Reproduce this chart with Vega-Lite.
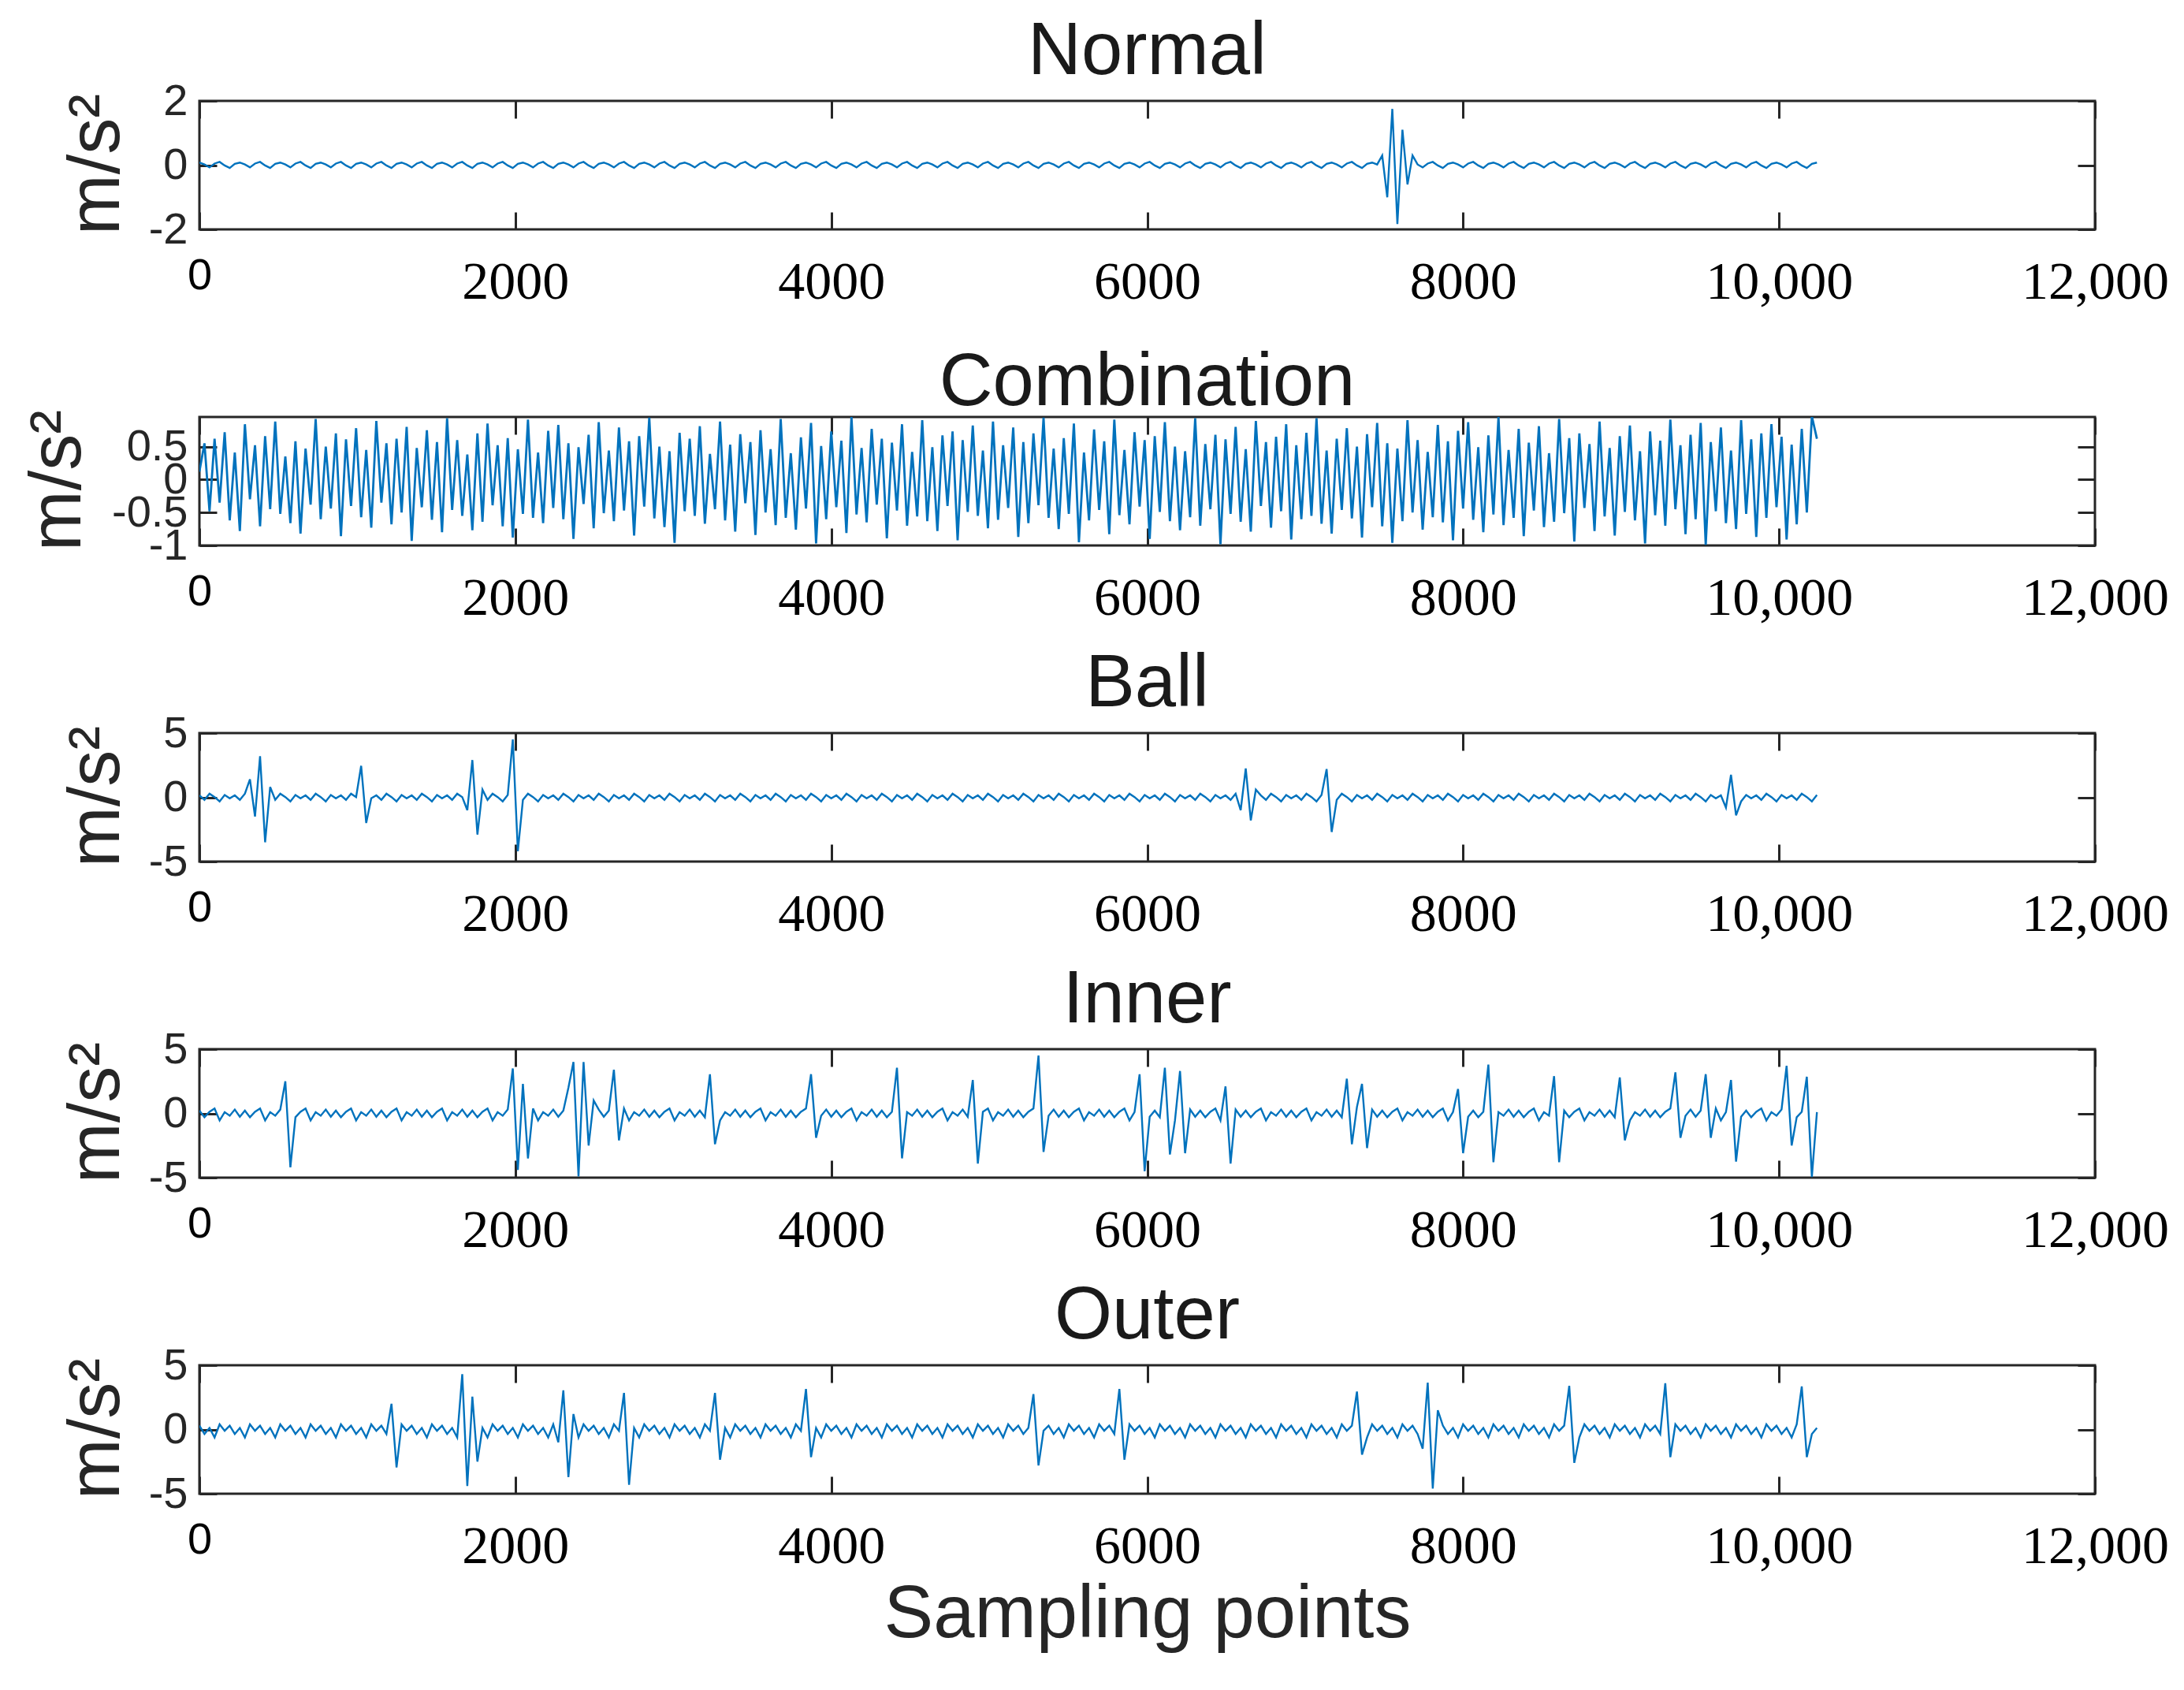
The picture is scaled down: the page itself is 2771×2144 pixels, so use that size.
{
"$schema": "https://vega.github.io/schema/vega-lite/v6.json",
"background": "white",
"padding": {"left": 25, "top": 17, "right": 5, "bottom": 5},
"autosize": {"type": "pad"},
"spacing": 238,
"bounds": "flush",
"config": {
  "view": {"stroke": "#262626", "strokeWidth": 3},
  "font": "Liberation Sans",
  "title": {"font": "Liberation Sans", "fontSize": 94, "fontWeight": "normal", "color": "#1a1a1a", "baseline": "alphabetic", "offset": -14, "anchor": "middle", "frame": "group"},
  "axis": {"domain": false, "grid": false, "tickSize": -22, "tickColor": "#262626", "tickWidth": 3, "labelOverlap": false, "labelFlush": false, "labelLimit": 0, "titleFont": "Liberation Sans", "titleFontWeight": "normal", "titleColor": "#262626"}
},
"data": {"values": [
{"x":0,"n":0.08,"c":0.12,"b":0.15,"i":0.22,"o":0.3},
{"x":32,"n":0.02,"c":0.55,"b":-0.2,"i":-0.3,"o":-0.35},
{"x":64,"n":-0.07,"c":-0.48,"b":0.28,"i":0.12,"o":0.12},
{"x":96,"n":0.05,"c":0.62,"b":0.02,"i":0.38,"o":-0.62},
{"x":128,"n":0.1,"c":-0.35,"b":-0.32,"i":-0.55,"o":0.4},
{"x":160,"n":-0.01,"c":0.72,"b":0.18,"i":0.1,"o":-0.1},
{"x":192,"n":-0.09,"c":-0.62,"b":-0.08,"i":-0.18,"o":0.3},
{"x":224,"n":0.04,"c":0.41,"b":0.15,"i":0.3,"o":-0.35},
{"x":256,"n":0.08,"c":-0.78,"b":-0.2,"i":-0.26,"o":0.12},
{"x":288,"n":0.02,"c":0.84,"b":0.28,"i":0.22,"o":-0.62},
{"x":320,"n":-0.07,"c":-0.3,"b":1.4,"i":-0.3,"o":0.4},
{"x":352,"n":0.05,"c":0.52,"b":-1.5,"i":0.12,"o":-0.1},
{"x":384,"n":0.1,"c":-0.71,"b":3.2,"i":0.38,"o":0.3},
{"x":416,"n":-0.01,"c":0.66,"b":-3.5,"i":-0.55,"o":-0.35},
{"x":448,"n":-0.09,"c":-0.45,"b":0.8,"i":0.1,"o":0.12},
{"x":480,"n":0.04,"c":0.88,"b":-0.2,"i":-0.18,"o":-0.62},
{"x":512,"n":0.08,"c":-0.52,"b":0.28,"i":0.3,"o":0.4},
{"x":544,"n":0.02,"c":0.35,"b":0.02,"i":2.5,"o":-0.1},
{"x":576,"n":-0.07,"c":-0.66,"b":-0.32,"i":-4.2,"o":0.3},
{"x":608,"n":0.05,"c":0.58,"b":0.18,"i":-0.3,"o":-0.35},
{"x":640,"n":0.1,"c":-0.82,"b":-0.08,"i":0.12,"o":0.12},
{"x":672,"n":-0.01,"c":0.47,"b":0.15,"i":0.38,"o":-0.62},
{"x":704,"n":-0.09,"c":-0.38,"b":-0.2,"i":-0.55,"o":0.4},
{"x":736,"n":0.04,"c":0.92,"b":0.28,"i":0.1,"o":-0.1},
{"x":768,"n":0.08,"c":-0.6,"b":0.02,"i":-0.18,"o":0.3},
{"x":800,"n":0.02,"c":0.5,"b":-0.32,"i":0.3,"o":-0.35},
{"x":832,"n":-0.07,"c":-0.44,"b":0.18,"i":-0.26,"o":0.12},
{"x":864,"n":0.05,"c":0.7,"b":-0.08,"i":0.22,"o":-0.62},
{"x":896,"n":0.1,"c":-0.86,"b":0.15,"i":-0.3,"o":0.4},
{"x":928,"n":-0.01,"c":0.61,"b":-0.2,"i":0.12,"o":-0.1},
{"x":960,"n":-0.09,"c":-0.4,"b":0.28,"i":0.38,"o":0.3},
{"x":992,"n":0.04,"c":0.78,"b":0.02,"i":-0.55,"o":-0.35},
{"x":1024,"n":0.08,"c":-0.57,"b":2.45,"i":0.1,"o":0.12},
{"x":1056,"n":0.02,"c":0.45,"b":-2.0,"i":-0.18,"o":-0.62},
{"x":1088,"n":-0.07,"c":-0.73,"b":-0.08,"i":0.3,"o":0.4},
{"x":1120,"n":0.05,"c":0.89,"b":0.15,"i":-0.26,"o":-0.1},
{"x":1152,"n":0.1,"c":-0.35,"b":-0.2,"i":0.22,"o":0.3},
{"x":1184,"n":-0.01,"c":0.55,"b":0.28,"i":-0.3,"o":-0.35},
{"x":1216,"n":-0.09,"c":-0.68,"b":0.02,"i":0.12,"o":2.0},
{"x":1248,"n":0.04,"c":0.62,"b":-0.32,"i":0.38,"o":-2.95},
{"x":1280,"n":0.08,"c":-0.5,"b":0.18,"i":-0.55,"o":0.4},
{"x":1312,"n":0.02,"c":0.8,"b":-0.08,"i":0.1,"o":-0.1},
{"x":1344,"n":-0.07,"c":-0.93,"b":0.15,"i":-0.18,"o":0.3},
{"x":1376,"n":0.05,"c":0.48,"b":-0.2,"i":0.3,"o":-0.35},
{"x":1408,"n":0.1,"c":-0.42,"b":0.28,"i":-0.26,"o":0.12},
{"x":1440,"n":-0.01,"c":0.75,"b":0.02,"i":0.22,"o":-0.62},
{"x":1472,"n":-0.09,"c":-0.61,"b":-0.32,"i":-0.3,"o":0.4},
{"x":1504,"n":0.04,"c":0.57,"b":0.18,"i":0.12,"o":-0.1},
{"x":1536,"n":0.08,"c":-0.8,"b":-0.08,"i":0.38,"o":0.3},
{"x":1568,"n":0.02,"c":0.93,"b":0.15,"i":-0.55,"o":-0.35},
{"x":1600,"n":-0.07,"c":-0.46,"b":-0.2,"i":0.1,"o":0.12},
{"x":1632,"n":0.05,"c":0.6,"b":0.28,"i":-0.18,"o":-0.62},
{"x":1664,"n":0.1,"c":-0.55,"b":0.02,"i":0.3,"o":4.3},
{"x":1696,"n":-0.01,"c":0.38,"b":-1.0,"i":-0.26,"o":-4.4},
{"x":1728,"n":-0.09,"c":-0.77,"b":2.9,"i":0.22,"o":2.55},
{"x":1760,"n":0.04,"c":0.7,"b":-2.9,"i":-0.3,"o":-2.5},
{"x":1792,"n":0.08,"c":-0.64,"b":0.6,"i":0.12,"o":0.12},
{"x":1824,"n":0.02,"c":0.85,"b":-0.2,"i":0.38,"o":-0.62},
{"x":1856,"n":-0.07,"c":-0.39,"b":0.28,"i":-0.55,"o":0.4},
{"x":1888,"n":0.05,"c":0.52,"b":0.02,"i":0.1,"o":-0.1},
{"x":1920,"n":0.1,"c":-0.71,"b":-0.32,"i":-0.18,"o":0.3},
{"x":1952,"n":-0.01,"c":0.63,"b":0.18,"i":0.3,"o":-0.35},
{"x":1984,"n":-0.09,"c":-0.88,"b":4.5,"i":3.5,"o":0.12},
{"x":2016,"n":0.04,"c":0.46,"b":-4.2,"i":-4.4,"o":-0.62},
{"x":2048,"n":0.08,"c":-0.52,"b":-0.2,"i":2.3,"o":0.4},
{"x":2080,"n":0.02,"c":0.91,"b":0.28,"i":-3.5,"o":-0.1},
{"x":2112,"n":-0.07,"c":-0.58,"b":0.02,"i":0.38,"o":0.3},
{"x":2144,"n":0.05,"c":0.41,"b":-0.32,"i":-0.55,"o":-0.35},
{"x":2176,"n":0.1,"c":-0.66,"b":0.18,"i":0.1,"o":0.12},
{"x":2208,"n":-0.01,"c":0.74,"b":-0.08,"i":-0.18,"o":-0.62},
{"x":2240,"n":-0.09,"c":-0.43,"b":0.15,"i":0.3,"o":0.4},
{"x":2272,"n":0.04,"c":0.83,"b":-0.2,"i":-0.26,"o":-1.0},
{"x":2304,"n":0.08,"c":-0.6,"b":0.28,"i":0.22,"o":3.05},
{"x":2336,"n":0.02,"c":0.55,"b":0.02,"i":2.0,"o":-3.7},
{"x":2368,"n":-0.07,"c":-0.9,"b":-0.32,"i":4.0,"o":1.2},
{"x":2400,"n":0.05,"c":0.49,"b":0.18,"i":-4.9,"o":-0.62},
{"x":2432,"n":0.1,"c":-0.37,"b":-0.08,"i":4.0,"o":0.4},
{"x":2464,"n":-0.01,"c":0.68,"b":0.15,"i":-2.5,"o":-0.1},
{"x":2496,"n":-0.09,"c":-0.74,"b":-0.2,"i":1.0,"o":0.3},
{"x":2528,"n":0.04,"c":0.87,"b":0.28,"i":0.3,"o":-0.35},
{"x":2560,"n":0.08,"c":-0.51,"b":0.02,"i":-0.26,"o":0.12},
{"x":2592,"n":0.02,"c":0.44,"b":-0.32,"i":0.22,"o":-0.62},
{"x":2624,"n":-0.07,"c":-0.63,"b":0.18,"i":3.4,"o":0.4},
{"x":2656,"n":0.05,"c":0.79,"b":-0.08,"i":-2.1,"o":-0.1},
{"x":2688,"n":0.1,"c":-0.47,"b":0.15,"i":0.38,"o":2.85},
{"x":2720,"n":-0.01,"c":0.58,"b":-0.2,"i":-0.55,"o":-4.3},
{"x":2752,"n":-0.09,"c":-0.85,"b":0.28,"i":0.1,"o":0.12},
{"x":2784,"n":0.04,"c":0.66,"b":0.02,"i":-0.18,"o":-0.62},
{"x":2816,"n":0.08,"c":-0.41,"b":-0.32,"i":0.3,"o":0.4},
{"x":2848,"n":0.02,"c":0.94,"b":0.18,"i":-0.26,"o":-0.1},
{"x":2880,"n":-0.07,"c":-0.59,"b":-0.08,"i":0.22,"o":0.3},
{"x":2912,"n":0.05,"c":0.5,"b":0.15,"i":-0.3,"o":-0.35},
{"x":2944,"n":0.1,"c":-0.72,"b":-0.2,"i":0.12,"o":0.12},
{"x":2976,"n":-0.01,"c":0.43,"b":0.28,"i":0.38,"o":-0.62},
{"x":3008,"n":-0.09,"c":-0.96,"b":0.02,"i":-0.55,"o":0.4},
{"x":3040,"n":0.04,"c":0.71,"b":-0.32,"i":0.1,"o":-0.1},
{"x":3072,"n":0.08,"c":-0.48,"b":0.18,"i":-0.18,"o":0.3},
{"x":3104,"n":0.02,"c":0.62,"b":-0.08,"i":0.3,"o":-0.35},
{"x":3136,"n":-0.07,"c":-0.55,"b":0.15,"i":-0.26,"o":0.12},
{"x":3168,"n":0.05,"c":0.81,"b":-0.2,"i":0.22,"o":-0.62},
{"x":3200,"n":0.1,"c":-0.67,"b":0.28,"i":-0.3,"o":0.4},
{"x":3232,"n":-0.01,"c":0.39,"b":0.02,"i":3.05,"o":-0.1},
{"x":3264,"n":-0.09,"c":-0.45,"b":-0.32,"i":-2.4,"o":2.85},
{"x":3296,"n":0.04,"c":0.88,"b":0.18,"i":-0.55,"o":-2.35},
{"x":3328,"n":0.08,"c":-0.62,"b":-0.08,"i":0.1,"o":0.12},
{"x":3360,"n":0.02,"c":0.53,"b":0.15,"i":-0.18,"o":-0.62},
{"x":3392,"n":-0.07,"c":-0.79,"b":-0.2,"i":0.3,"o":0.4},
{"x":3424,"n":0.05,"c":0.69,"b":0.28,"i":-0.26,"o":-0.1},
{"x":3456,"n":0.1,"c":-0.36,"b":0.02,"i":0.22,"o":0.3},
{"x":3488,"n":-0.01,"c":0.57,"b":-0.32,"i":-0.3,"o":-0.35},
{"x":3520,"n":-0.09,"c":-0.84,"b":0.18,"i":0.12,"o":0.12},
{"x":3552,"n":0.04,"c":0.75,"b":-0.08,"i":0.38,"o":-0.62},
{"x":3584,"n":0.08,"c":-0.5,"b":0.15,"i":-0.55,"o":0.4},
{"x":3616,"n":0.02,"c":0.46,"b":-0.2,"i":0.1,"o":-0.1},
{"x":3648,"n":-0.07,"c":-0.69,"b":0.28,"i":-0.18,"o":0.3},
{"x":3680,"n":0.05,"c":0.92,"b":0.02,"i":0.3,"o":-0.35},
{"x":3712,"n":0.1,"c":-0.58,"b":-0.32,"i":-0.26,"o":0.12},
{"x":3744,"n":-0.01,"c":0.4,"b":0.18,"i":0.22,"o":-0.62},
{"x":3776,"n":-0.09,"c":-0.76,"b":-0.08,"i":-0.3,"o":0.4},
{"x":3808,"n":0.04,"c":0.64,"b":0.15,"i":0.12,"o":-0.1},
{"x":3840,"n":0.08,"c":-0.44,"b":-0.2,"i":0.38,"o":3.15},
{"x":3872,"n":0.02,"c":0.86,"b":0.28,"i":3.05,"o":-2.15},
{"x":3904,"n":-0.07,"c":-0.97,"b":0.02,"i":-1.9,"o":0.12},
{"x":3936,"n":0.05,"c":0.51,"b":-0.32,"i":-0.18,"o":-0.62},
{"x":3968,"n":0.1,"c":-0.6,"b":0.18,"i":0.3,"o":0.4},
{"x":4000,"n":-0.01,"c":0.73,"b":-0.08,"i":-0.26,"o":-0.1},
{"x":4032,"n":-0.09,"c":-0.42,"b":0.15,"i":0.22,"o":0.3},
{"x":4064,"n":0.04,"c":0.59,"b":-0.2,"i":-0.3,"o":-0.35},
{"x":4096,"n":0.08,"c":-0.81,"b":0.28,"i":0.12,"o":0.12},
{"x":4128,"n":0.02,"c":0.95,"b":0.02,"i":0.38,"o":-0.62},
{"x":4160,"n":-0.07,"c":-0.53,"b":-0.32,"i":-0.55,"o":0.4},
{"x":4192,"n":0.05,"c":0.48,"b":0.18,"i":0.1,"o":-0.1},
{"x":4224,"n":0.1,"c":-0.65,"b":-0.08,"i":-0.18,"o":0.3},
{"x":4256,"n":-0.01,"c":0.77,"b":0.15,"i":0.3,"o":-0.35},
{"x":4288,"n":-0.09,"c":-0.38,"b":-0.2,"i":-0.26,"o":0.12},
{"x":4320,"n":0.04,"c":0.62,"b":0.28,"i":0.22,"o":-0.62},
{"x":4352,"n":0.08,"c":-0.89,"b":0.02,"i":-0.3,"o":0.4},
{"x":4384,"n":0.02,"c":0.56,"b":-0.32,"i":0.12,"o":-0.1},
{"x":4416,"n":-0.07,"c":-0.47,"b":0.18,"i":3.55,"o":0.3},
{"x":4448,"n":0.05,"c":0.84,"b":-0.08,"i":-3.5,"o":-0.35},
{"x":4480,"n":0.1,"c":-0.7,"b":0.15,"i":0.1,"o":0.12},
{"x":4512,"n":-0.01,"c":0.42,"b":-0.2,"i":-0.18,"o":-0.62},
{"x":4544,"n":-0.09,"c":-0.56,"b":0.28,"i":0.3,"o":0.4},
{"x":4576,"n":0.04,"c":0.9,"b":0.02,"i":-0.26,"o":-0.1},
{"x":4608,"n":0.08,"c":-0.63,"b":-0.32,"i":0.22,"o":0.3},
{"x":4640,"n":0.02,"c":0.49,"b":0.18,"i":-0.3,"o":-0.35},
{"x":4672,"n":-0.07,"c":-0.78,"b":-0.08,"i":0.12,"o":0.12},
{"x":4704,"n":0.05,"c":0.67,"b":0.15,"i":0.38,"o":-0.62},
{"x":4736,"n":0.1,"c":-0.4,"b":-0.2,"i":-0.55,"o":0.4},
{"x":4768,"n":-0.01,"c":0.73,"b":0.28,"i":0.1,"o":-0.1},
{"x":4800,"n":-0.09,"c":-0.92,"b":0.02,"i":-0.18,"o":0.3},
{"x":4832,"n":0.04,"c":0.6,"b":-0.32,"i":0.3,"o":-0.35},
{"x":4864,"n":0.08,"c":-0.49,"b":0.18,"i":-0.26,"o":0.12},
{"x":4896,"n":0.02,"c":0.82,"b":-0.08,"i":2.6,"o":-0.62},
{"x":4928,"n":-0.07,"c":-0.55,"b":0.15,"i":-3.9,"o":0.4},
{"x":4960,"n":0.05,"c":0.44,"b":-0.2,"i":0.12,"o":-0.1},
{"x":4992,"n":0.1,"c":-0.74,"b":0.28,"i":0.38,"o":0.3},
{"x":5024,"n":-0.01,"c":0.88,"b":0.02,"i":-0.55,"o":-0.35},
{"x":5056,"n":-0.09,"c":-0.61,"b":-0.32,"i":0.1,"o":0.12},
{"x":5088,"n":0.04,"c":0.52,"b":0.18,"i":-0.18,"o":-0.62},
{"x":5120,"n":0.08,"c":-0.43,"b":-0.08,"i":0.3,"o":0.4},
{"x":5152,"n":0.02,"c":0.79,"b":0.15,"i":-0.26,"o":-0.1},
{"x":5184,"n":-0.07,"c":-0.87,"b":-0.2,"i":0.22,"o":0.3},
{"x":5216,"n":0.05,"c":0.57,"b":0.28,"i":-0.3,"o":-0.35},
{"x":5248,"n":0.1,"c":-0.66,"b":0.02,"i":0.12,"o":0.12},
{"x":5280,"n":-0.01,"c":0.7,"b":-0.32,"i":0.38,"o":2.75},
{"x":5312,"n":-0.09,"c":-0.39,"b":0.18,"i":4.5,"o":-2.8},
{"x":5344,"n":0.04,"c":0.94,"b":-0.08,"i":-3.0,"o":-0.1},
{"x":5376,"n":0.08,"c":-0.58,"b":0.15,"i":-0.18,"o":0.3},
{"x":5408,"n":0.02,"c":0.47,"b":-0.2,"i":0.3,"o":-0.35},
{"x":5440,"n":-0.07,"c":-0.75,"b":0.28,"i":-0.26,"o":0.12},
{"x":5472,"n":0.05,"c":0.63,"b":0.02,"i":0.22,"o":-0.62},
{"x":5504,"n":0.1,"c":-0.52,"b":-0.32,"i":-0.3,"o":0.4},
{"x":5536,"n":-0.01,"c":0.85,"b":0.18,"i":0.12,"o":-0.1},
{"x":5568,"n":-0.09,"c":-0.95,"b":-0.08,"i":0.38,"o":0.3},
{"x":5600,"n":0.04,"c":0.41,"b":0.15,"i":-0.55,"o":-0.35},
{"x":5632,"n":0.08,"c":-0.62,"b":-0.2,"i":0.1,"o":0.12},
{"x":5664,"n":0.02,"c":0.76,"b":0.28,"i":-0.18,"o":-0.62},
{"x":5696,"n":-0.07,"c":-0.46,"b":0.02,"i":0.3,"o":0.4},
{"x":5728,"n":0.05,"c":0.58,"b":-0.32,"i":-0.26,"o":-0.1},
{"x":5760,"n":0.1,"c":-0.83,"b":0.18,"i":0.22,"o":0.3},
{"x":5792,"n":-0.01,"c":0.91,"b":-0.08,"i":-0.3,"o":-0.35},
{"x":5824,"n":-0.09,"c":-0.54,"b":0.15,"i":0.12,"o":3.15},
{"x":5856,"n":0.04,"c":0.45,"b":-0.2,"i":0.38,"o":-2.35},
{"x":5888,"n":0.08,"c":-0.68,"b":0.28,"i":-0.55,"o":0.4},
{"x":5920,"n":0.02,"c":0.72,"b":0.02,"i":0.1,"o":-0.1},
{"x":5952,"n":-0.07,"c":-0.41,"b":-0.32,"i":3.05,"o":0.3},
{"x":5984,"n":0.05,"c":0.6,"b":0.18,"i":-4.5,"o":-0.35},
{"x":6016,"n":0.1,"c":-0.9,"b":-0.08,"i":-0.26,"o":0.12},
{"x":6048,"n":-0.01,"c":0.66,"b":0.15,"i":0.22,"o":-0.62},
{"x":6080,"n":-0.09,"c":-0.49,"b":-0.2,"i":-0.3,"o":0.4},
{"x":6112,"n":0.04,"c":0.87,"b":0.28,"i":3.55,"o":-0.1},
{"x":6144,"n":0.08,"c":-0.63,"b":0.02,"i":-3.2,"o":0.3},
{"x":6176,"n":0.02,"c":0.5,"b":-0.32,"i":-0.55,"o":-0.35},
{"x":6208,"n":-0.07,"c":-0.77,"b":0.18,"i":3.3,"o":0.12},
{"x":6240,"n":0.05,"c":0.43,"b":-0.08,"i":-3.1,"o":-0.62},
{"x":6272,"n":0.1,"c":-0.57,"b":0.15,"i":0.3,"o":0.4},
{"x":6304,"n":-0.01,"c":0.93,"b":-0.2,"i":-0.26,"o":-0.1},
{"x":6336,"n":-0.09,"c":-0.7,"b":0.28,"i":0.22,"o":0.3},
{"x":6368,"n":0.04,"c":0.54,"b":0.02,"i":-0.3,"o":-0.35},
{"x":6400,"n":0.08,"c":-0.45,"b":-0.32,"i":0.12,"o":0.12},
{"x":6432,"n":0.02,"c":0.68,"b":0.18,"i":0.38,"o":-0.62},
{"x":6464,"n":-0.07,"c":-0.98,"b":-0.08,"i":-0.55,"o":0.4},
{"x":6496,"n":0.05,"c":0.61,"b":0.15,"i":2.1,"o":-0.1},
{"x":6528,"n":0.1,"c":-0.52,"b":-0.2,"i":-3.9,"o":0.3},
{"x":6560,"n":-0.01,"c":0.8,"b":0.28,"i":0.3,"o":-0.35},
{"x":6592,"n":-0.09,"c":-0.64,"b":-1.0,"i":-0.26,"o":0.12},
{"x":6624,"n":0.04,"c":0.46,"b":2.25,"i":0.22,"o":-0.62},
{"x":6656,"n":0.08,"c":-0.79,"b":-1.8,"i":-0.3,"o":0.4},
{"x":6688,"n":0.02,"c":0.89,"b":0.6,"i":0.12,"o":-0.1},
{"x":6720,"n":-0.07,"c":-0.4,"b":0.15,"i":0.38,"o":0.3},
{"x":6752,"n":0.05,"c":0.57,"b":-0.2,"i":-0.55,"o":-0.35},
{"x":6784,"n":0.1,"c":-0.73,"b":0.28,"i":0.1,"o":0.12},
{"x":6816,"n":-0.01,"c":0.65,"b":0.02,"i":-0.18,"o":-0.62},
{"x":6848,"n":-0.09,"c":-0.48,"b":-0.32,"i":0.3,"o":0.4},
{"x":6880,"n":0.04,"c":0.84,"b":0.18,"i":-0.26,"o":-0.1},
{"x":6912,"n":0.08,"c":-0.91,"b":-0.08,"i":0.22,"o":0.3},
{"x":6944,"n":0.02,"c":0.52,"b":0.15,"i":-0.3,"o":-0.35},
{"x":6976,"n":-0.07,"c":-0.6,"b":-0.2,"i":0.12,"o":0.12},
{"x":7008,"n":0.05,"c":0.71,"b":0.28,"i":0.38,"o":-0.62},
{"x":7040,"n":0.1,"c":-0.55,"b":0.02,"i":-0.55,"o":0.4},
{"x":7072,"n":-0.01,"c":0.93,"b":-0.32,"i":0.1,"o":-0.1},
{"x":7104,"n":-0.09,"c":-0.67,"b":0.18,"i":-0.18,"o":0.3},
{"x":7136,"n":0.04,"c":0.44,"b":2.2,"i":0.3,"o":-0.35},
{"x":7168,"n":0.08,"c":-0.82,"b":-2.7,"i":-0.26,"o":0.12},
{"x":7200,"n":0.02,"c":0.62,"b":-0.2,"i":0.22,"o":-0.62},
{"x":7232,"n":-0.07,"c":-0.46,"b":0.28,"i":-0.3,"o":0.4},
{"x":7264,"n":0.05,"c":0.78,"b":0.02,"i":2.7,"o":-0.1},
{"x":7296,"n":0.1,"c":-0.59,"b":-0.32,"i":-2.4,"o":0.3},
{"x":7328,"n":-0.01,"c":0.5,"b":0.18,"i":0.5,"o":2.95},
{"x":7360,"n":-0.09,"c":-0.88,"b":-0.08,"i":2.3,"o":-1.95},
{"x":7392,"n":0.04,"c":0.69,"b":0.15,"i":-2.7,"o":-0.62},
{"x":7424,"n":0.08,"c":-0.42,"b":-0.2,"i":0.3,"o":0.4},
{"x":7456,"n":0.02,"c":0.86,"b":0.28,"i":-0.26,"o":-0.1},
{"x":7488,"n":0.3,"c":-0.71,"b":0.02,"i":0.22,"o":0.3},
{"x":7520,"n":-1.0,"c":0.55,"b":-0.32,"i":-0.3,"o":-0.35},
{"x":7552,"n":1.75,"c":-0.96,"b":0.18,"i":0.12,"o":0.12},
{"x":7584,"n":-1.83,"c":0.47,"b":-0.08,"i":0.38,"o":-0.62},
{"x":7616,"n":1.1,"c":-0.63,"b":0.15,"i":-0.55,"o":0.4},
{"x":7648,"n":-0.6,"c":0.9,"b":-0.2,"i":0.1,"o":-0.1},
{"x":7680,"n":0.3,"c":-0.5,"b":0.28,"i":-0.18,"o":0.3},
{"x":7712,"n":0.02,"c":0.6,"b":0.02,"i":0.3,"o":-0.35},
{"x":7744,"n":-0.07,"c":-0.76,"b":-0.32,"i":-0.26,"o":-1.5},
{"x":7776,"n":0.05,"c":0.42,"b":0.18,"i":0.22,"o":3.65},
{"x":7808,"n":0.1,"c":-0.57,"b":-0.08,"i":-0.3,"o":-4.6},
{"x":7840,"n":-0.01,"c":0.83,"b":0.15,"i":0.12,"o":1.5},
{"x":7872,"n":-0.09,"c":-0.65,"b":-0.2,"i":0.38,"o":0.3},
{"x":7904,"n":0.04,"c":0.58,"b":0.28,"i":-0.55,"o":-0.35},
{"x":7936,"n":0.08,"c":-0.92,"b":0.02,"i":0.1,"o":0.12},
{"x":7968,"n":0.02,"c":0.74,"b":-0.32,"i":1.9,"o":-0.62},
{"x":8000,"n":-0.07,"c":-0.44,"b":0.18,"i":-3.1,"o":0.4},
{"x":8032,"n":0.05,"c":0.87,"b":-0.08,"i":-0.26,"o":-0.1},
{"x":8064,"n":0.1,"c":-0.61,"b":0.15,"i":0.22,"o":0.3},
{"x":8096,"n":-0.01,"c":0.49,"b":-0.2,"i":-0.3,"o":-0.35},
{"x":8128,"n":-0.09,"c":-0.8,"b":0.28,"i":0.12,"o":0.12},
{"x":8160,"n":0.04,"c":0.67,"b":0.02,"i":3.8,"o":-0.62},
{"x":8192,"n":0.08,"c":-0.53,"b":-0.32,"i":-3.8,"o":0.4},
{"x":8224,"n":0.02,"c":0.95,"b":0.18,"i":0.1,"o":-0.1},
{"x":8256,"n":-0.07,"c":-0.69,"b":-0.08,"i":-0.18,"o":0.3},
{"x":8288,"n":0.05,"c":0.45,"b":0.15,"i":0.3,"o":-0.35},
{"x":8320,"n":0.1,"c":-0.58,"b":-0.2,"i":-0.26,"o":0.12},
{"x":8352,"n":-0.01,"c":0.77,"b":0.28,"i":0.22,"o":-0.62},
{"x":8384,"n":-0.09,"c":-0.86,"b":0.02,"i":-0.3,"o":0.4},
{"x":8416,"n":0.04,"c":0.56,"b":-0.32,"i":0.12,"o":-0.1},
{"x":8448,"n":0.08,"c":-0.47,"b":0.18,"i":0.38,"o":0.3},
{"x":8480,"n":0.02,"c":0.81,"b":-0.08,"i":-0.55,"o":-0.35},
{"x":8512,"n":-0.07,"c":-0.72,"b":0.15,"i":0.1,"o":0.12},
{"x":8544,"n":0.05,"c":0.4,"b":-0.2,"i":-0.18,"o":-0.62},
{"x":8576,"n":0.1,"c":-0.64,"b":0.28,"i":2.9,"o":0.4},
{"x":8608,"n":-0.01,"c":0.92,"b":0.02,"i":-3.8,"o":-0.1},
{"x":8640,"n":-0.09,"c":-0.51,"b":-0.32,"i":0.22,"o":0.3},
{"x":8672,"n":0.04,"c":0.63,"b":0.18,"i":-0.3,"o":3.4},
{"x":8704,"n":0.08,"c":-0.94,"b":-0.08,"i":0.12,"o":-2.6},
{"x":8736,"n":0.02,"c":0.7,"b":0.15,"i":0.38,"o":-0.62},
{"x":8768,"n":-0.07,"c":-0.43,"b":-0.2,"i":-0.55,"o":0.4},
{"x":8800,"n":0.05,"c":0.54,"b":0.28,"i":0.1,"o":-0.1},
{"x":8832,"n":0.1,"c":-0.78,"b":0.02,"i":-0.18,"o":0.3},
{"x":8864,"n":-0.01,"c":0.88,"b":-0.32,"i":0.3,"o":-0.35},
{"x":8896,"n":-0.09,"c":-0.56,"b":0.18,"i":-0.26,"o":0.12},
{"x":8928,"n":0.04,"c":0.48,"b":-0.08,"i":0.22,"o":-0.62},
{"x":8960,"n":0.08,"c":-0.85,"b":0.15,"i":-0.3,"o":0.4},
{"x":8992,"n":0.02,"c":0.66,"b":-0.2,"i":2.8,"o":-0.1},
{"x":9024,"n":-0.07,"c":-0.49,"b":0.28,"i":-2.1,"o":0.3},
{"x":9056,"n":0.05,"c":0.82,"b":0.02,"i":-0.55,"o":-0.35},
{"x":9088,"n":0.1,"c":-0.62,"b":-0.32,"i":0.1,"o":0.12},
{"x":9120,"n":-0.01,"c":0.43,"b":0.18,"i":-0.18,"o":-0.62},
{"x":9152,"n":-0.09,"c":-0.97,"b":-0.08,"i":0.3,"o":0.4},
{"x":9184,"n":0.04,"c":0.73,"b":0.15,"i":-0.26,"o":-0.1},
{"x":9216,"n":0.08,"c":-0.54,"b":-0.2,"i":0.22,"o":0.3},
{"x":9248,"n":0.02,"c":0.59,"b":0.28,"i":-0.3,"o":-0.35},
{"x":9280,"n":-0.07,"c":-0.7,"b":0.02,"i":0.12,"o":3.6},
{"x":9312,"n":0.05,"c":0.91,"b":-0.32,"i":0.38,"o":-2.15},
{"x":9344,"n":0.1,"c":-0.45,"b":0.18,"i":3.2,"o":0.4},
{"x":9376,"n":-0.01,"c":0.52,"b":-0.08,"i":-1.9,"o":-0.1},
{"x":9408,"n":-0.09,"c":-0.83,"b":0.15,"i":-0.18,"o":0.3},
{"x":9440,"n":0.04,"c":0.68,"b":-0.2,"i":0.3,"o":-0.35},
{"x":9472,"n":0.08,"c":-0.6,"b":0.28,"i":-0.26,"o":0.12},
{"x":9504,"n":0.02,"c":0.86,"b":0.02,"i":0.22,"o":-0.62},
{"x":9536,"n":-0.07,"c":-0.99,"b":-0.32,"i":3.05,"o":0.4},
{"x":9568,"n":0.05,"c":0.57,"b":0.18,"i":-1.9,"o":-0.1},
{"x":9600,"n":0.1,"c":-0.48,"b":-0.08,"i":0.38,"o":0.3},
{"x":9632,"n":-0.01,"c":0.79,"b":0.15,"i":-0.55,"o":-0.35},
{"x":9664,"n":-0.09,"c":-0.66,"b":-0.8,"i":0.1,"o":0.12},
{"x":9696,"n":0.04,"c":0.44,"b":1.75,"i":2.6,"o":-0.62},
{"x":9728,"n":0.08,"c":-0.75,"b":-1.4,"i":-3.75,"o":0.4},
{"x":9760,"n":0.02,"c":0.9,"b":-0.32,"i":-0.26,"o":-0.1},
{"x":9792,"n":-0.07,"c":-0.52,"b":0.18,"i":0.22,"o":0.3},
{"x":9824,"n":0.05,"c":0.61,"b":-0.08,"i":-0.3,"o":-0.35},
{"x":9856,"n":0.1,"c":-0.87,"b":0.15,"i":0.12,"o":0.12},
{"x":9888,"n":-0.01,"c":0.7,"b":-0.2,"i":0.38,"o":-0.62},
{"x":9920,"n":-0.09,"c":-0.58,"b":0.28,"i":-0.55,"o":0.4},
{"x":9952,"n":0.04,"c":0.84,"b":0.02,"i":0.1,"o":-0.1},
{"x":9984,"n":0.08,"c":-0.42,"b":-0.32,"i":-0.18,"o":0.3},
{"x":10016,"n":0.02,"c":0.65,"b":0.18,"i":0.3,"o":-0.35},
{"x":10048,"n":-0.07,"c":-0.91,"b":-0.08,"i":3.7,"o":0.12},
{"x":10080,"n":0.05,"c":0.53,"b":0.15,"i":-2.5,"o":-0.62},
{"x":10112,"n":0.1,"c":-0.68,"b":-0.2,"i":-0.3,"o":0.4},
{"x":10144,"n":-0.01,"c":0.77,"b":0.28,"i":0.12,"o":3.35},
{"x":10176,"n":-0.09,"c":-0.5,"b":0.02,"i":2.85,"o":-2.15},
{"x":10208,"n":0.04,"c":0.96,"b":-0.32,"i":-4.95,"o":-0.35},
{"x":10240,"n":0.08,"c":0.62,"b":0.18,"i":0.1,"o":0.12}
]},
"vconcat": [
{
 "title": "Normal", "width": 2405, "height": 163,
 "layer": [
  {"mark": {"type": "line", "color": "#0072BD", "strokeWidth": 2.4, "clip": true},
   "encoding": {
    "x": {"field": "x", "type": "quantitative", "scale": {"domain": [0, 12000], "nice": false, "zero": false},
      "axis": {"orient": "bottom", "values": [0, 2000, 4000, 6000, 8000, 10000, 12000], "title": null,
        "labelExpr": "datum.value >= 10000 ? format(datum.value, ',') : '' + datum.value",
        "labelFont": {"condition": {"test": "datum.value === 0", "value": "Liberation Sans"}, "value": "Liberation Serif"},
        "labelFontSize": {"condition": {"test": "datum.value === 0", "value": 56}, "value": 68},
        "labelPadding": {"condition": {"test": "datum.value === 0", "value": 97}, "value": 109},
        "labelBaseline": "alphabetic", "labelColor": "#000000"}},
    "y": {"field": "n", "type": "quantitative", "scale": {"domain": [-2, 2], "nice": false, "zero": false},
      "axis": {"orient": "left", "values": [-2, 0, 2], "title": "m/s²", "labelExpr": "'' + datum.value",
        "labelFont": "Liberation Sans", "labelFontSize": 56, "labelColor": "#262626", "labelPadding": 37,
        "titleFontSize": 92, "titleX": -131, "titleY": 80, "titleBaseline": "middle", "titleAlign": "center", "titleAngle": 270}}
   }},
  {"mark": {"type": "line", "strokeOpacity": 0},
   "encoding": {
    "x": {"field": "x", "type": "quantitative", "scale": {"domain": [0, 12000], "nice": false, "zero": false},
      "axis": {"orient": "top", "values": [0, 2000, 4000, 6000, 8000, 10000, 12000], "labels": false, "title": null}},
    "y": {"field": "n", "type": "quantitative", "scale": {"domain": [-2, 2], "nice": false, "zero": false},
      "axis": {"orient": "right", "values": [-2, 0, 2], "labels": false, "title": null}}
   }}
 ],
 "resolve": {"axis": {"x": "independent", "y": "independent"}}
},
{
 "title": "Combination", "width": 2405, "height": 163,
 "layer": [
  {"mark": {"type": "line", "color": "#0072BD", "strokeWidth": 2.8, "clip": true},
   "encoding": {
    "x": {"field": "x", "type": "quantitative", "scale": {"domain": [0, 12000], "nice": false, "zero": false},
      "axis": {"orient": "bottom", "values": [0, 2000, 4000, 6000, 8000, 10000, 12000], "title": null,
        "labelExpr": "datum.value >= 10000 ? format(datum.value, ',') : '' + datum.value",
        "labelFont": {"condition": {"test": "datum.value === 0", "value": "Liberation Sans"}, "value": "Liberation Serif"},
        "labelFontSize": {"condition": {"test": "datum.value === 0", "value": 56}, "value": 68},
        "labelPadding": {"condition": {"test": "datum.value === 0", "value": 97}, "value": 109},
        "labelBaseline": "alphabetic", "labelColor": "#000000"}},
    "y": {"field": "c", "type": "quantitative", "scale": {"domain": [-1, 0.95], "nice": false, "zero": false},
      "axis": {"orient": "left", "values": [-1, -0.5, 0, 0.5], "title": "m/s²", "labelExpr": "'' + datum.value",
        "labelFont": "Liberation Sans", "labelFontSize": 56, "labelColor": "#262626", "labelPadding": 37,
        "titleFontSize": 92, "titleX": -180, "titleY": 80, "titleBaseline": "middle", "titleAlign": "center", "titleAngle": 270}}
   }},
  {"mark": {"type": "line", "strokeOpacity": 0},
   "encoding": {
    "x": {"field": "x", "type": "quantitative", "scale": {"domain": [0, 12000], "nice": false, "zero": false},
      "axis": {"orient": "top", "values": [0, 2000, 4000, 6000, 8000, 10000, 12000], "labels": false, "title": null}},
    "y": {"field": "c", "type": "quantitative", "scale": {"domain": [-1, 0.95], "nice": false, "zero": false},
      "axis": {"orient": "right", "values": [-1, -0.5, 0, 0.5], "labels": false, "title": null}}
   }}
 ],
 "resolve": {"axis": {"x": "independent", "y": "independent"}}
},
{
 "title": "Ball", "width": 2405, "height": 163,
 "layer": [
  {"mark": {"type": "line", "color": "#0072BD", "strokeWidth": 2.4, "clip": true},
   "encoding": {
    "x": {"field": "x", "type": "quantitative", "scale": {"domain": [0, 12000], "nice": false, "zero": false},
      "axis": {"orient": "bottom", "values": [0, 2000, 4000, 6000, 8000, 10000, 12000], "title": null,
        "labelExpr": "datum.value >= 10000 ? format(datum.value, ',') : '' + datum.value",
        "labelFont": {"condition": {"test": "datum.value === 0", "value": "Liberation Sans"}, "value": "Liberation Serif"},
        "labelFontSize": {"condition": {"test": "datum.value === 0", "value": 56}, "value": 68},
        "labelPadding": {"condition": {"test": "datum.value === 0", "value": 97}, "value": 109},
        "labelBaseline": "alphabetic", "labelColor": "#000000"}},
    "y": {"field": "b", "type": "quantitative", "scale": {"domain": [-5, 5], "nice": false, "zero": false},
      "axis": {"orient": "left", "values": [-5, 0, 5], "title": "m/s²", "labelExpr": "'' + datum.value",
        "labelFont": "Liberation Sans", "labelFontSize": 56, "labelColor": "#262626", "labelPadding": 37,
        "titleFontSize": 92, "titleX": -131, "titleY": 80, "titleBaseline": "middle", "titleAlign": "center", "titleAngle": 270}}
   }},
  {"mark": {"type": "line", "strokeOpacity": 0},
   "encoding": {
    "x": {"field": "x", "type": "quantitative", "scale": {"domain": [0, 12000], "nice": false, "zero": false},
      "axis": {"orient": "top", "values": [0, 2000, 4000, 6000, 8000, 10000, 12000], "labels": false, "title": null}},
    "y": {"field": "b", "type": "quantitative", "scale": {"domain": [-5, 5], "nice": false, "zero": false},
      "axis": {"orient": "right", "values": [-5, 0, 5], "labels": false, "title": null}}
   }}
 ],
 "resolve": {"axis": {"x": "independent", "y": "independent"}}
},
{
 "title": "Inner", "width": 2405, "height": 163,
 "layer": [
  {"mark": {"type": "line", "color": "#0072BD", "strokeWidth": 2.4, "clip": true},
   "encoding": {
    "x": {"field": "x", "type": "quantitative", "scale": {"domain": [0, 12000], "nice": false, "zero": false},
      "axis": {"orient": "bottom", "values": [0, 2000, 4000, 6000, 8000, 10000, 12000], "title": null,
        "labelExpr": "datum.value >= 10000 ? format(datum.value, ',') : '' + datum.value",
        "labelFont": {"condition": {"test": "datum.value === 0", "value": "Liberation Sans"}, "value": "Liberation Serif"},
        "labelFontSize": {"condition": {"test": "datum.value === 0", "value": 56}, "value": 68},
        "labelPadding": {"condition": {"test": "datum.value === 0", "value": 97}, "value": 109},
        "labelBaseline": "alphabetic", "labelColor": "#000000"}},
    "y": {"field": "i", "type": "quantitative", "scale": {"domain": [-5, 5], "nice": false, "zero": false},
      "axis": {"orient": "left", "values": [-5, 0, 5], "title": "m/s²", "labelExpr": "'' + datum.value",
        "labelFont": "Liberation Sans", "labelFontSize": 56, "labelColor": "#262626", "labelPadding": 37,
        "titleFontSize": 92, "titleX": -131, "titleY": 80, "titleBaseline": "middle", "titleAlign": "center", "titleAngle": 270}}
   }},
  {"mark": {"type": "line", "strokeOpacity": 0},
   "encoding": {
    "x": {"field": "x", "type": "quantitative", "scale": {"domain": [0, 12000], "nice": false, "zero": false},
      "axis": {"orient": "top", "values": [0, 2000, 4000, 6000, 8000, 10000, 12000], "labels": false, "title": null}},
    "y": {"field": "i", "type": "quantitative", "scale": {"domain": [-5, 5], "nice": false, "zero": false},
      "axis": {"orient": "right", "values": [-5, 0, 5], "labels": false, "title": null}}
   }}
 ],
 "resolve": {"axis": {"x": "independent", "y": "independent"}}
},
{
 "title": "Outer", "width": 2405, "height": 163,
 "layer": [
  {"mark": {"type": "line", "color": "#0072BD", "strokeWidth": 2.4, "clip": true},
   "encoding": {
    "x": {"field": "x", "type": "quantitative", "scale": {"domain": [0, 12000], "nice": false, "zero": false},
      "axis": {"orient": "bottom", "values": [0, 2000, 4000, 6000, 8000, 10000, 12000], "title": "Sampling points",
        "titleFontSize": 94, "titleY": 181, "titleBaseline": "alphabetic",
        "labelExpr": "datum.value >= 10000 ? format(datum.value, ',') : '' + datum.value",
        "labelFont": {"condition": {"test": "datum.value === 0", "value": "Liberation Sans"}, "value": "Liberation Serif"},
        "labelFontSize": {"condition": {"test": "datum.value === 0", "value": 56}, "value": 68},
        "labelPadding": {"condition": {"test": "datum.value === 0", "value": 97}, "value": 109},
        "labelBaseline": "alphabetic", "labelColor": "#000000"}},
    "y": {"field": "o", "type": "quantitative", "scale": {"domain": [-5, 5], "nice": false, "zero": false},
      "axis": {"orient": "left", "values": [-5, 0, 5], "title": "m/s²", "labelExpr": "'' + datum.value",
        "labelFont": "Liberation Sans", "labelFontSize": 56, "labelColor": "#262626", "labelPadding": 37,
        "titleFontSize": 92, "titleX": -131, "titleY": 80, "titleBaseline": "middle", "titleAlign": "center", "titleAngle": 270}}
   }},
  {"mark": {"type": "line", "strokeOpacity": 0},
   "encoding": {
    "x": {"field": "x", "type": "quantitative", "scale": {"domain": [0, 12000], "nice": false, "zero": false},
      "axis": {"orient": "top", "values": [0, 2000, 4000, 6000, 8000, 10000, 12000], "labels": false, "title": null}},
    "y": {"field": "o", "type": "quantitative", "scale": {"domain": [-5, 5], "nice": false, "zero": false},
      "axis": {"orient": "right", "values": [-5, 0, 5], "labels": false, "title": null}}
   }}
 ],
 "resolve": {"axis": {"x": "independent", "y": "independent"}}
}
]
}
